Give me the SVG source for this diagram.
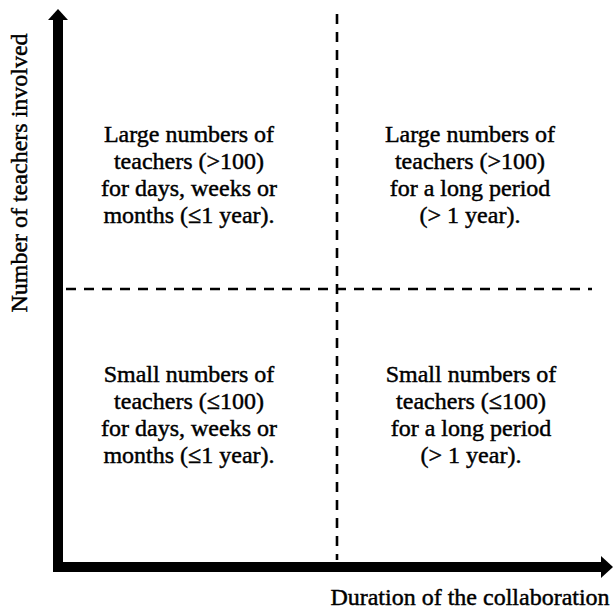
<svg xmlns="http://www.w3.org/2000/svg" width="615" height="613" viewBox="0 0 615 613">
<style>
text { font-family: "Liberation Serif", "Times New Roman", serif; font-size: 24px; fill: #000; stroke: #000; stroke-width: 0.45; text-anchor: middle; }
.dash { stroke: #000; stroke-width: 2.6; stroke-dasharray: 10 8; fill: none; }
.axis { stroke: #000; stroke-width: 10; fill: none; }
</style>
<rect width="615" height="613" fill="#fff"/>
<g id="connectors">
<line class="dash" x1="337" y1="14" x2="337" y2="560"/>
<line class="dash" x1="66" y1="289" x2="592" y2="289"/>
<polyline class="axis" points="58,20 58,567 602,567"/>
<polygon points="58,9 68,20 48,20" fill="#000"/>
<polygon points="613,567 601,556 601,578" fill="#000"/>
</g>
<g id="y-axis-label">
<text transform="translate(27,173) rotate(-90)">Number of teachers involved</text>
</g>
<g id="x-axis-label">
<text x="470" y="605">Duration of the collaboration</text>
</g>
<g id="top-left">
<text x="189" y="142">Large numbers of</text>
<text x="189" y="169">teachers (&gt;100)</text>
<text x="189" y="196">for days, weeks or</text>
<text x="189" y="223">months (≤1 year).</text>
</g>
<g id="top-right">
<text x="470" y="142">Large numbers of</text>
<text x="470" y="169">teachers (&gt;100)</text>
<text x="470" y="196">for a long period</text>
<text x="470" y="223">(&gt; 1 year).</text>
</g>
<g id="bottom-left">
<text x="189" y="382">Small numbers of</text>
<text x="189" y="409">teachers (≤100)</text>
<text x="189" y="436">for days, weeks or</text>
<text x="189" y="463">months (≤1 year).</text>
</g>
<g id="bottom-right">
<text x="471" y="382">Small numbers of</text>
<text x="471" y="409">teachers (≤100)</text>
<text x="471" y="436">for a long period</text>
<text x="471" y="463">(&gt; 1 year).</text>
</g>
</svg>
